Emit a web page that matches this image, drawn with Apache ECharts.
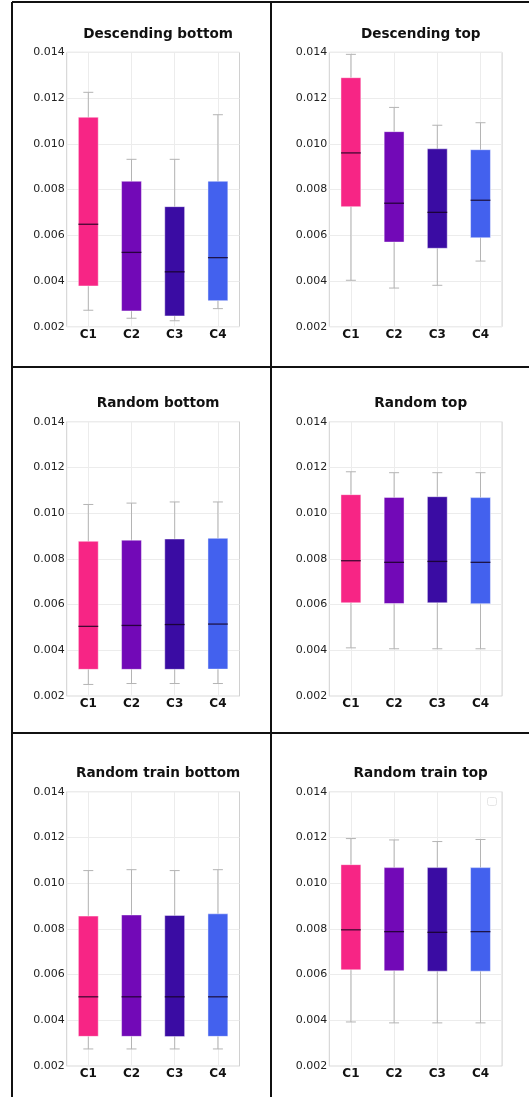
<!DOCTYPE html>
<html>
<head>
<meta charset="utf-8">
<script src="https://cdn.jsdelivr.net/npm/echarts@6/dist/echarts.min.js"></script>
<style>
  html, body { margin: 0; padding: 0; background: #fff; }
  #chart { width: 529px; height: 1097px; }
</style>
</head>
<body>
<div id="chart"></div>
<script>
// values: [min, q1, median, q3, max]
const categories = ["C1", "C2", "C3", "C4"];
const colors = ["#F72585", "#7209B7", "#3A0CA3", "#4361EE"];
const titles = [
  "Descending bottom", "Descending top",
  "Random bottom", "Random top",
  "Random train bottom", "Random train top"
];
const descendingBottom = [
  [0.00272, 0.00378, 0.00648, 0.01116, 0.01225],
  [0.00237, 0.00269, 0.00525, 0.00836, 0.00932],
  [0.00226, 0.00247, 0.00440, 0.00725, 0.00932],
  [0.00279, 0.00314, 0.00502, 0.00836, 0.01127]
];
const descendingTop = [
  [0.00403, 0.00725, 0.00960, 0.01289, 0.01391],
  [0.00369, 0.00570, 0.00740, 0.01053, 0.01159],
  [0.00381, 0.00543, 0.00700, 0.00978, 0.01081],
  [0.00487, 0.00589, 0.00753, 0.00974, 0.01092]
];
const randomBottom = [
  [0.00251, 0.00317, 0.00505, 0.00877, 0.01038],
  [0.00255, 0.00317, 0.00509, 0.00882, 0.01044],
  [0.00255, 0.00317, 0.00513, 0.00887, 0.01049],
  [0.00255, 0.00318, 0.00515, 0.00890, 0.01049]
];
const randomTop = [
  [0.00411, 0.00608, 0.00792, 0.01081, 0.01181],
  [0.00407, 0.00605, 0.00785, 0.01069, 0.01177],
  [0.00407, 0.00608, 0.00789, 0.01072, 0.01177],
  [0.00407, 0.00604, 0.00785, 0.01068, 0.01177]
];
const randomTrainBottom = [
  [0.00275, 0.00330, 0.00503, 0.00856, 0.01055],
  [0.00275, 0.00330, 0.00503, 0.00861, 0.01059],
  [0.00275, 0.00329, 0.00503, 0.00859, 0.01055],
  [0.00275, 0.00330, 0.00503, 0.00866, 0.01059]
];
const randomTrainTop = [
  [0.00393, 0.00621, 0.00796, 0.01081, 0.01195],
  [0.00389, 0.00617, 0.00788, 0.01068, 0.01189],
  [0.00389, 0.00615, 0.00785, 0.01068, 0.01182],
  [0.00389, 0.00615, 0.00788, 0.01068, 0.01191]
];
const panels = [descendingBottom, descendingTop, randomBottom, randomTop, randomTrainBottom, randomTrainTop];
const yTicks = { min: 0.002, max: 0.014, interval: 0.002 };

const font = "DejaVu Sans";
const colLeft = [66.7, 329.3];
const rowTop = [52.3, 421.7, 791.7];
const plotW = 172.8, plotH = 274.4;

const grids = [], xAxes = [], yAxes = [], series = [], titleOpts = [];
panels.forEach((stats, i) => {
  const col = i % 2, row = Math.floor(i / 2);
  grids.push({
    left: colLeft[col], top: rowTop[row], width: plotW, height: plotH,
    show: true, borderColor: "#d0d0d0", borderWidth: 1, backgroundColor: "#fff"
  });
  xAxes.push({
    type: "category", gridIndex: i, data: categories,
    axisLine: { show: false }, axisTick: { show: false },
    axisLabel: { fontFamily: font, fontWeight: "bold", fontSize: 12, color: "#111", margin: 2 },
    splitLine: { show: true, alignWithLabel: true, lineStyle: { color: "#ececec", width: 1 } }
  });
  yAxes.push({
    type: "value", gridIndex: i, min: yTicks.min, max: yTicks.max, interval: yTicks.interval,
    axisLine: { show: false }, axisTick: { show: false },
    axisLabel: { fontFamily: font, fontSize: 11, color: "#222", margin: 2,
      formatter: v => v.toFixed(3) },
    splitLine: { lineStyle: { color: "#ececec", width: 1 } }
  });
  titleOpts.push({
    text: titles[i], left: colLeft[col] + plotW / 2, top: rowTop[row] - 30, textAlign: "center",
    textStyle: { fontFamily: font, fontWeight: "bold", fontSize: 13.6, color: "#111" }
  });
  series.push({
    type: "custom", xAxisIndex: i, yAxisIndex: i,
    data: stats.map((s, k) => [k].concat(s)),
    renderItem: (params, api) => {
      const k = api.value(0);
      const pMin = api.coord([k, api.value(1)]);
      const pQ1 = api.coord([k, api.value(2)]);
      const pMed = api.coord([k, api.value(3)]);
      const pQ3 = api.coord([k, api.value(4)]);
      const pMax = api.coord([k, api.value(5)]);
      const bw = api.size([1, 0])[0] * 0.46;
      const cx = pMed[0];
      const cap = 5;
      const wStyle = { stroke: "#b4b4b4", lineWidth: 1 };
      return {
        type: "group",
        children: [
          { type: "line", shape: { x1: cx, y1: pMax[1], x2: cx, y2: pMin[1] }, style: wStyle },
          { type: "line", shape: { x1: cx - cap, y1: pMax[1], x2: cx + cap, y2: pMax[1] }, style: wStyle },
          { type: "line", shape: { x1: cx - cap, y1: pMin[1], x2: cx + cap, y2: pMin[1] }, style: wStyle },
          { type: "rect", shape: { x: cx - bw / 2, y: pQ3[1], width: bw, height: pQ1[1] - pQ3[1] },
            style: { fill: colors[k], stroke: "rgba(255,255,255,0.45)", lineWidth: 1 } },
          { type: "line", shape: { x1: cx - bw / 2, y1: pMed[1], x2: cx + bw / 2, y2: pMed[1] },
            style: { stroke: "rgba(20,0,30,0.8)", lineWidth: 1.3 } }
        ]
      };
    }
  });
});

const bs = { stroke: "#111", lineWidth: 2 };
const graphic = [
  { type: "line", shape: { x1: 12, y1: 2, x2: 529, y2: 2 }, style: bs },
  { type: "line", shape: { x1: 12, y1: 367, x2: 529, y2: 367 }, style: bs },
  { type: "line", shape: { x1: 12, y1: 733, x2: 529, y2: 733 }, style: bs },
  { type: "line", shape: { x1: 12, y1: 2, x2: 12, y2: 1097 }, style: bs },
  { type: "line", shape: { x1: 271, y1: 2, x2: 271, y2: 1097 }, style: bs },
  // empty legend box
  { type: "rect", shape: { x: 487.5, y: 797.5, width: 9, height: 8, r: 2 },
    style: { fill: "#fff", stroke: "#e6e6e6", lineWidth: 1 } }
];

const chart = echarts.init(document.getElementById("chart"));
chart.setOption({
  animation: false,
  backgroundColor: "#fff",
  title: titleOpts,
  grid: grids,
  xAxis: xAxes,
  yAxis: yAxes,
  series: series,
  graphic: graphic
});
</script>
</body>
</html>
